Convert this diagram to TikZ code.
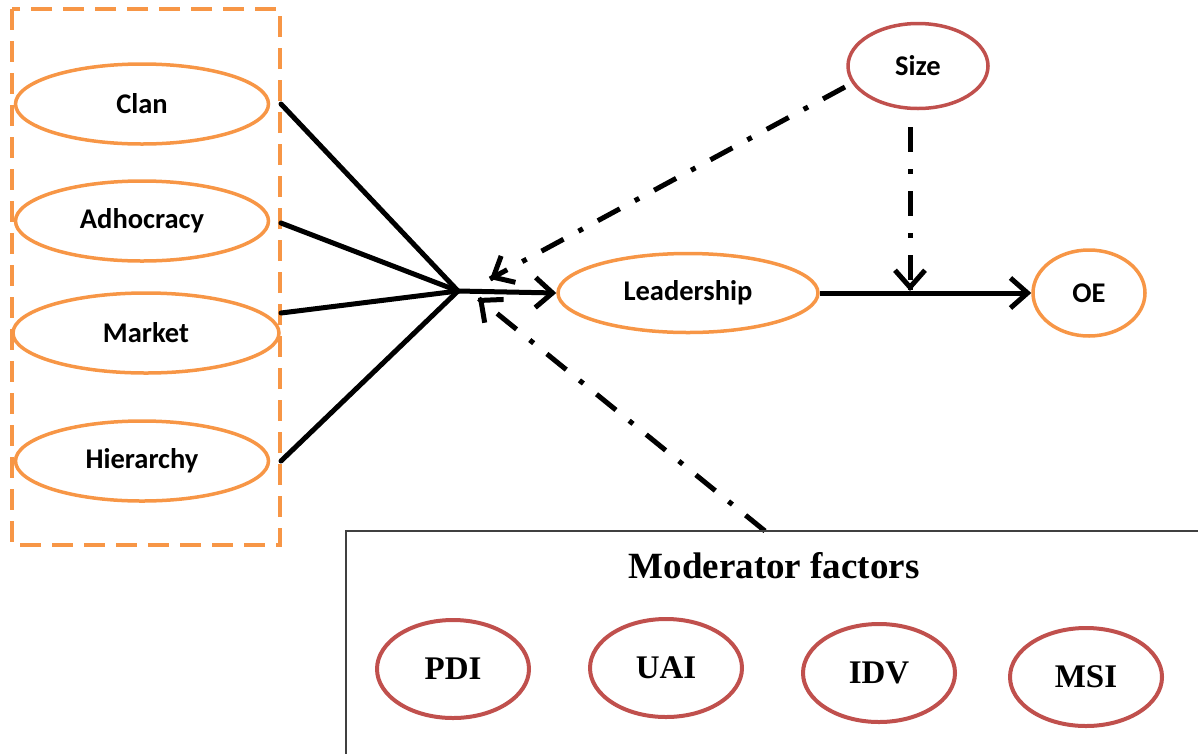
\documentclass[tikz,border=0pt]{standalone}
\usepackage{fontspec}
\setmainfont{Liberation Serif}
\newfontfamily\calfont{Carlito}
\usetikzlibrary{shapes.geometric,arrows.meta,calc}
\definecolor{accorange}{HTML}{F79646}
\definecolor{accred}{HTML}{C0504D}
\begin{document}
\begin{tikzpicture}[x=1pt,y=-1pt,
  barb/.tip={Straight Barb[length=17pt,width=30pt,line width=5pt]},
  culture/.style={ellipse, draw=accorange, line width=3.5pt, inner sep=0pt,
    minimum width=253pt, minimum height=80pt,
    font=\calfont\bfseries\fontsize{28.5}{32}\selectfont},
  redoval/.style={ellipse, draw=accred, line width=3.5pt, inner sep=0pt,
    font=\calfont\bfseries\fontsize{28.5}{32}\selectfont},
  factor/.style={ellipse, draw=accred, line width=4pt, inner sep=0pt,
    minimum width=152pt, minimum height=98pt,
    font=\bfseries\fontsize{33}{36}\selectfont},
  conn/.style={line width=5pt, black},
  dashdot/.style={line width=5pt, black, dash pattern=on 25pt off 17pt on 5pt off 17pt}]

\useasboundingbox (0,0) rectangle (1198,753);

% culture types inside the dashed frame
\draw[accorange, line width=4pt, dash pattern=on 21pt off 11pt] (12,9) rectangle (280,545);
\node[culture] (clan) at (142,104) {Clan};
\node[culture] (adho) at (142,221) {Adhocracy};
\node[culture, minimum width=266pt] (market) at (146,333) {Market};
\node[culture] (hier) at (142,461) {Hierarchy};

% leadership, outcome and size
\node[culture, minimum width=260pt, minimum height=79pt] (lead) at (688,293) {Leadership};
\node[culture, minimum width=112pt, minimum height=86pt] (oe) at (1089,293) {OE};
\node[redoval, minimum width=140pt, minimum height=85pt] (size) at (918,66) {Size};

% convergence point
\coordinate (hub) at (458,291);
\coordinate (clanR) at (281,104);
\coordinate (adhoR) at (281,223);
\coordinate (marketR) at (281,313);
\coordinate (hierR) at (281,461);

\draw[conn, line cap=round] (clanR) -- (hub);
\draw[conn, line cap=round] (adhoR) -- (hub);
\draw[conn, line cap=round] (marketR) -- (hub);
\draw[conn, line cap=round] (hierR) -- (hub);
\draw[conn, -{barb}] (hub) -- (lead.west);
\draw[conn, -{barb}] (lead.east) -- (oe.west);

% moderating paths: dash-dot shafts with solid heads
\coordinate (sizeL) at (845,87);
\coordinate (sizeTip) at (490,279);
\coordinate (sizeB) at (910,127);
\coordinate (sizeOnPath) at (910,291);
\coordinate (modTop) at (765,531);
\coordinate (modTip) at (478,298);
\draw[dashdot] (sizeL) -- (sizeTip);
\draw[conn, -{barb}] ($(sizeTip)!1pt!(sizeL)$) -- (sizeTip);
\draw[dashdot] (sizeB) -- (sizeOnPath);
\draw[conn, -{barb}] ($(sizeOnPath)!1pt!(sizeB)$) -- (sizeOnPath);
\draw[dashdot] (modTop) -- (modTip);
\draw[conn, -{barb}] ($(modTip)!1pt!(modTop)$) -- (modTip);

% moderator box
\draw[line width=1.5pt, black!75] (1210,531) -- (346,531) -- (346,770);
\node[font=\bfseries\fontsize{37}{40}\selectfont] (modtitle) at (774,566) {Moderator factors};
\node[factor] (pdi) at (453,669) {PDI};
\node[factor] (uai) at (666,668) {UAI};
\node[factor] (idv) at (879,673) {IDV};
\node[factor] (msi) at (1086,677) {MSI};
\end{tikzpicture}
\end{document}
